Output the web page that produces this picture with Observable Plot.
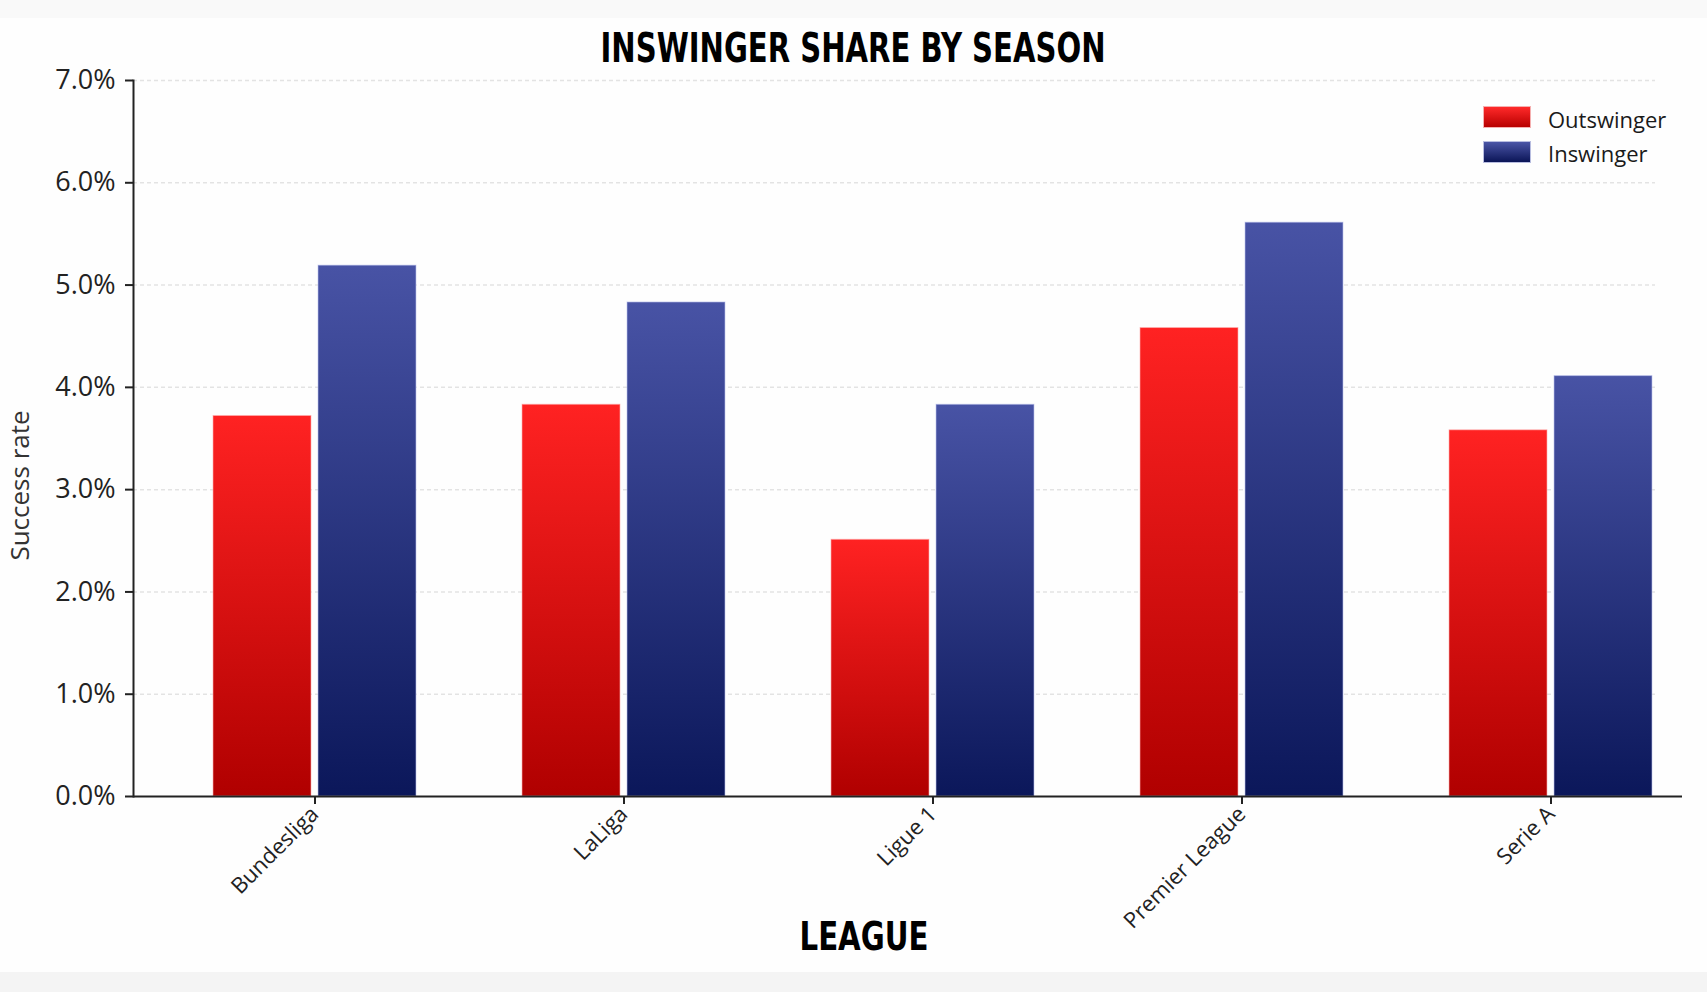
<!DOCTYPE html>
<html>
<head>
<meta charset="utf-8">
<script src="https://cdn.jsdelivr.net/npm/d3@7"></script>
<script src="https://cdn.jsdelivr.net/npm/@observablehq/plot@0.6"></script>
<style>
  html, body { margin: 0; padding: 0; background: #ffffff; }
  #wrap { position: relative; width: 1707px; height: 992px; overflow: hidden; background: #fefefe; }
  #topstrip { position: absolute; left: 0; top: 0; width: 1707px; height: 18px; background: #f9f9f9; }
  #botstrip { position: absolute; left: 0; top: 972px; width: 1707px; height: 20px; background: #f4f4f4; }
  #title { position: relative; height: 72px; box-sizing: border-box; padding-top: 28px;
           font-family: "Liberation Sans Narrow", "DejaVu Sans Condensed", "Open Sans", sans-serif;
           font-stretch: condensed; font-weight: bold; font-size: 41px; line-height: 41px;
           text-align: center; color: #000; white-space: nowrap; }
  #title span, #xlabel span { display: inline-block; transform-origin: center; }
  #chart svg { overflow: visible; display: block; }
  #xlabel { position: absolute; left: 864px; top: 917px; transform: translateX(-50%);
            font-family: "Liberation Sans Narrow", "DejaVu Sans Condensed", "Open Sans", sans-serif;
            font-stretch: condensed; font-weight: bold; font-size: 39px; line-height: 39px;
            color: #000; white-space: nowrap; }
  .sw { position: absolute; left: 1483px; width: 48px; height: 22px; box-sizing: border-box; }
  .lt { position: absolute; left: 1548px; font-family: "Open Sans", sans-serif; font-size: 22px;
        line-height: 22px; color: #1a1a1a; white-space: nowrap; }
</style>
</head>
<body>
<div id="wrap">
  <div id="topstrip"></div>
  <div id="botstrip"></div>
  <div id="title"><span id="titleText">INSWINGER SHARE BY SEASON</span></div>
  <div id="chart"></div>
  <div id="xlabel"><span id="xlabelText">LEAGUE</span></div>
  <div class="sw" style="top:106px;background:linear-gradient(#ff2a2a,#b80000);border:1px solid #f5b0b0;"></div>
  <div class="lt" style="top:108px;">Outswinger</div>
  <div class="sw" style="top:141px;background:linear-gradient(#4a55a6,#0b1557);border:1px solid #b8bde0;"></div>
  <div class="lt" style="top:142px;">Inswinger</div>
</div>
<script>
const leagues = ["Bundesliga", "LaLiga", "Ligue 1", "Premier League", "Serie A"];
const outswinger = [3.72, 3.83, 2.51, 4.58, 3.58];
const inswinger = [5.19, 4.83, 3.83, 5.61, 4.11];
const yTicks = [0, 1, 2, 3, 4, 5, 6, 7];

const outData = leagues.map((league, i) => ({league, value: outswinger[i]}));
const inData = leagues.map((league, i) => ({league, value: inswinger[i]}));

function gradients() {
  const defs = d3.create("svg:defs");
  const g1 = defs.append("linearGradient").attr("id", "gradOut")
    .attr("x1", 0).attr("y1", 0).attr("x2", 0).attr("y2", 1);
  g1.append("stop").attr("offset", "0%").attr("stop-color", "#ff2222");
  g1.append("stop").attr("offset", "100%").attr("stop-color", "#b00000");
  const g2 = defs.append("linearGradient").attr("id", "gradIn")
    .attr("x1", 0).attr("y1", 0).attr("x2", 0).attr("y2", 1);
  g2.append("stop").attr("offset", "0%").attr("stop-color", "#4853a5");
  g2.append("stop").attr("offset", "100%").attr("stop-color", "#0b175a");
  return defs.node();
}

const plot = Plot.plot({
  width: 1707,
  height: 840,
  marginLeft: 133,
  marginRight: 25,
  marginTop: 8,
  marginBottom: 116,
  style: {fontFamily: "'Open Sans', sans-serif", color: "#222", background: "transparent", overflow: "visible"},
  x: {domain: leagues, range: [159, 1705], padding: 0, label: null},
  y: {domain: [0, 7], label: null},
  marks: [
    gradients,
    Plot.ruleY(yTicks.filter(d => d > 0), {stroke: "#e3e3e3", strokeDasharray: "4 3", strokeWidth: 1.5, insetRight: 27}),
    Plot.barY(outData, {x: "league", y: "value", fill: "url(#gradOut)", insetLeft: 53, insetRight: 158,
      stroke: "#ffb0b0", strokeOpacity: 0.6, strokeWidth: 1}),
    Plot.barY(inData, {x: "league", y: "value", fill: "url(#gradIn)", insetLeft: 158, insetRight: 53,
      stroke: "#c0c6ee", strokeOpacity: 0.6, strokeWidth: 1}),
    Plot.axisY({ticks: yTicks, tickFormat: d => d.toFixed(1) + "%", tickSize: 8, tickPadding: 10,
      fontSize: 27, strokeWidth: 2, label: null}),
    Plot.axisX({tickRotate: -45, tickSize: 8, tickPadding: 6, fontSize: 22, strokeWidth: 2, label: null}),
    Plot.ruleY([0], {stroke: "#222", strokeWidth: 2}),
    Plot.frame({anchor: "left", stroke: "#222", strokeWidth: 2}),
    Plot.text(["Success rate"], {text: d => d, frameAnchor: "left", textAnchor: "middle", dx: -113, dy: 47,
      rotate: -90, fontSize: 26, fill: "#333"})
  ]
});
document.getElementById("chart").appendChild(plot);

function fitWidth(id, target) {
  const el = document.getElementById(id);
  const w = el.getBoundingClientRect().width;
  if (w > 0) el.style.transform = `scaleX(${target / w})`;
}
fitWidth("titleText", 505);
fitWidth("xlabelText", 129);
</script>
</body>
</html>
